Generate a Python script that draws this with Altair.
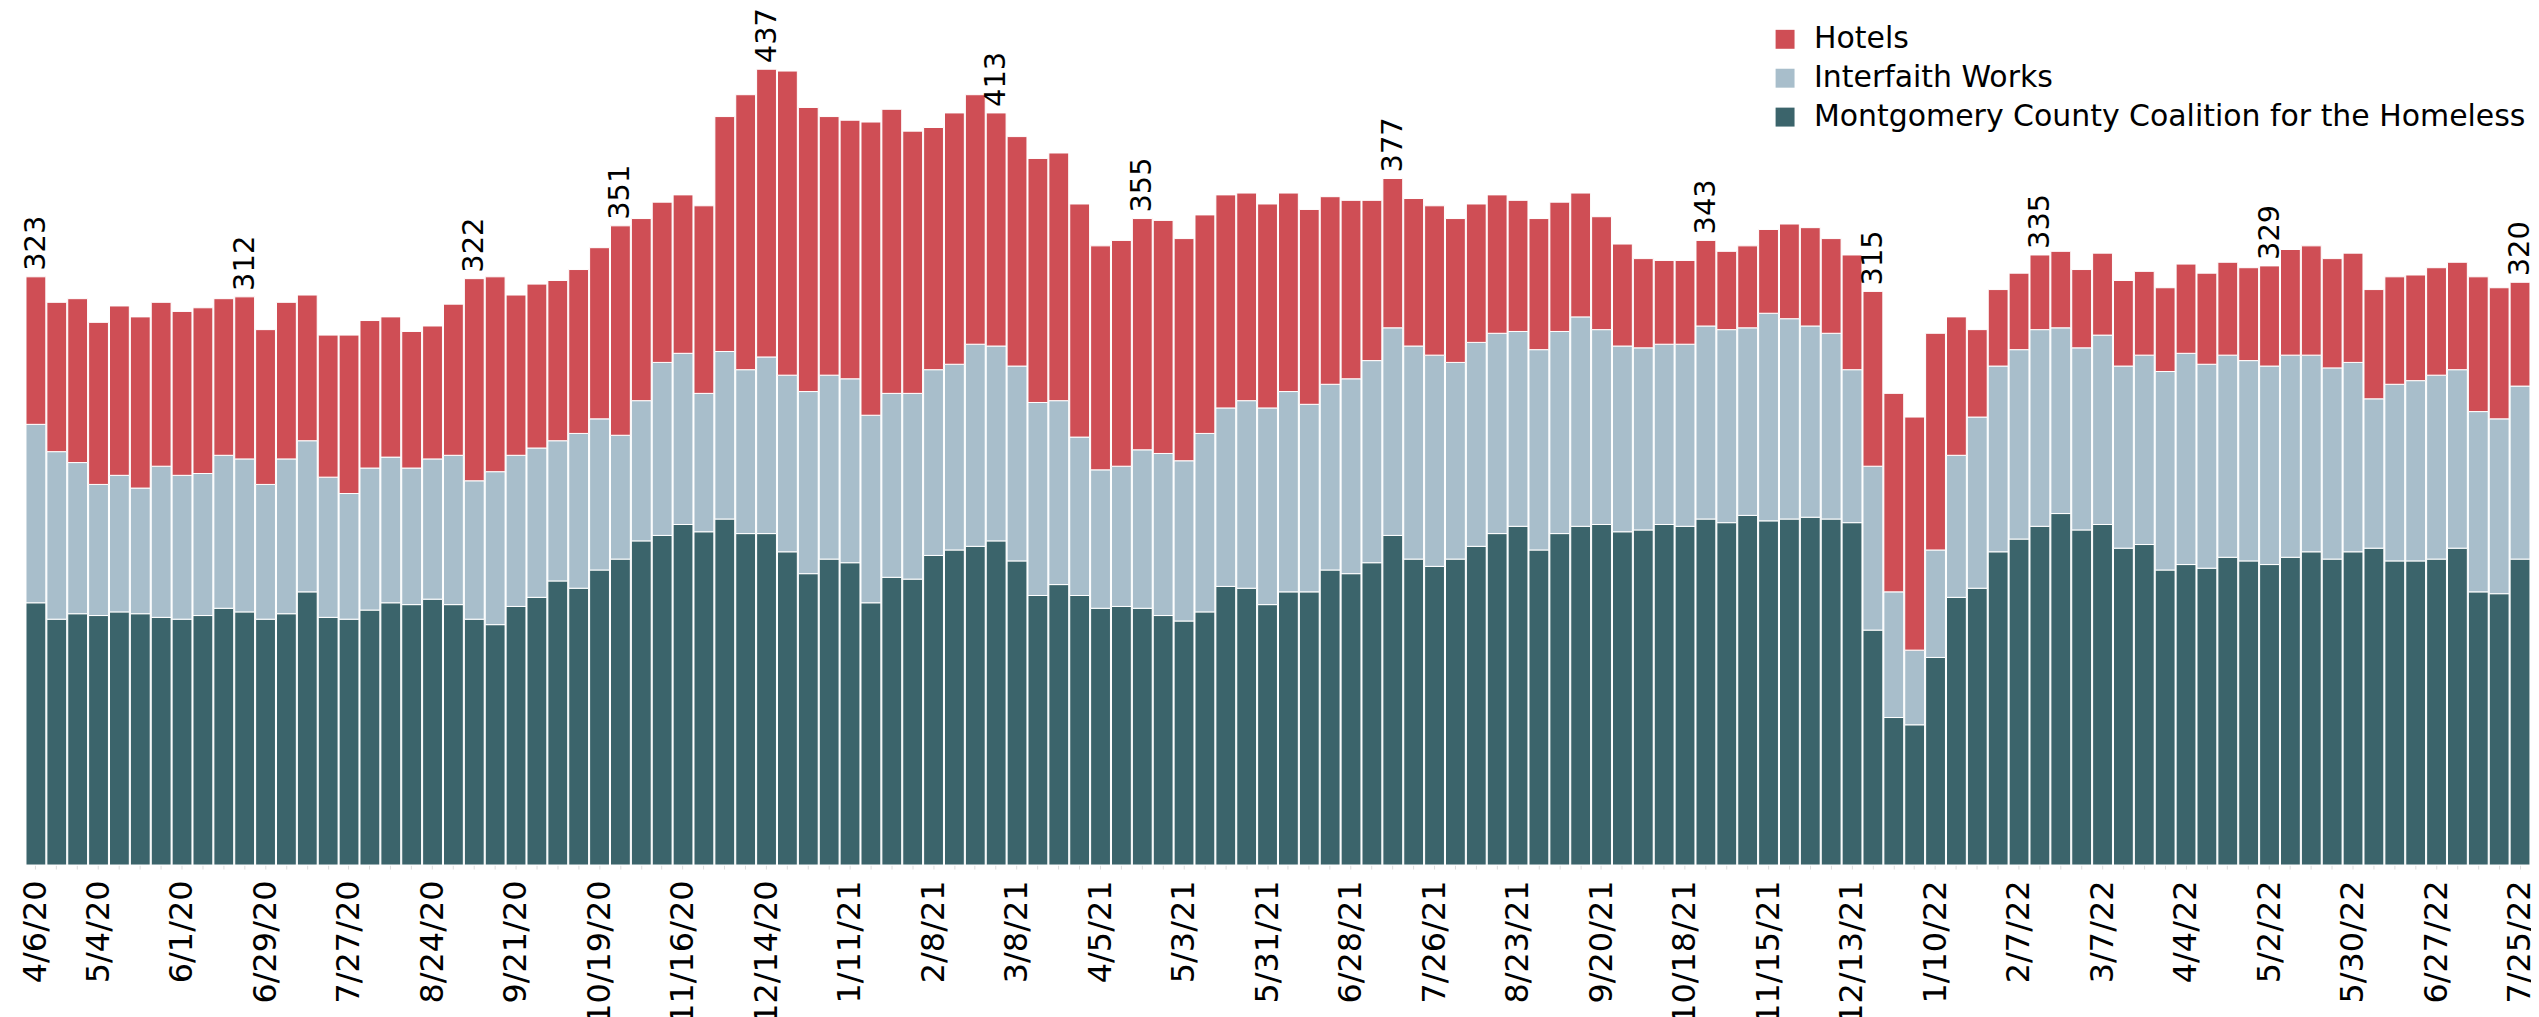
import json
import datetime as dt
import altair as alt
import pandas as pd

# ---- data (weekly counts) ----
MCCH = [144, 135, 138, 137, 139, 138, 136, 135, 137, 141, 139, 135, 138, 150, 136, 135, 140, 144, 143, 146,
        143, 135, 132, 142, 147, 156, 152, 162, 168, 178, 181, 187, 183, 190, 182, 182, 172, 160, 168, 166,
        144, 158, 157, 170, 173, 175, 178, 167, 148, 154, 148, 141, 142, 141, 137, 134, 139, 153, 152, 143,
        150, 150, 162, 160, 166, 181, 168, 164, 168, 175, 182, 186, 173, 182, 186, 187, 183, 184, 187, 186,
        190, 188, 192, 189, 190, 191, 190, 188, 129, 81, 77, 114, 147, 152, 172, 179, 186, 193, 184, 187,
        174, 176, 162, 165, 163, 169, 167, 165, 169, 172, 168, 172, 174, 167, 167, 168, 174, 150, 149, 168]
INTERFAITH = [98, 92, 83, 72, 75, 69, 83, 79, 78, 84, 84, 74, 85, 83, 77, 69, 78, 80, 75, 77,
              82, 76, 84, 83, 82, 77, 85, 83, 68, 77, 95, 94, 76, 92, 90, 97, 97, 100, 101, 101,
              103, 101, 102, 102, 102, 111, 107, 107, 106, 101, 87, 76, 77, 87, 89, 88, 98, 98, 103, 108,
              110, 103, 102, 107, 111, 114, 117, 116, 108, 112, 110, 107, 110, 111, 115, 107, 102, 100, 99, 100,
              106, 106, 103, 114, 110, 105, 102, 84, 90, 69, 41, 59, 78, 94, 102, 104, 108, 102, 100, 104,
              100, 104, 109, 116, 112, 111, 110, 109, 111, 108, 105, 104, 82, 97, 99, 101, 98, 99, 96, 95]
HOTELS = [81, 82, 90, 89, 93, 94, 90, 90, 91, 86, 89, 85, 86, 80, 78, 87, 81, 77, 75, 73,
          83, 111, 107, 88, 90, 88, 90, 94, 115, 100, 88, 87, 103, 129, 151, 158, 167, 156, 142, 142,
          161, 156, 144, 133, 138, 137, 128, 126, 134, 136, 128, 123, 124, 127, 128, 122, 120, 117, 114, 112,
          109, 107, 103, 98, 88, 82, 81, 82, 79, 76, 76, 72, 72, 71, 68, 62, 56, 49, 46, 46,
          47, 43, 45, 46, 52, 54, 52, 63, 96, 109, 128, 119, 76, 48, 42, 42, 41, 42, 43, 45,
          47, 46, 46, 49, 50, 51, 51, 55, 58, 60, 60, 60, 60, 59, 58, 59, 59, 74, 72, 57]

SERIES = ["Hotels", "Interfaith Works", "Montgomery County Coalition for the Homeless"]
COLORS = ["#CF4E55", "#A8BECB", "#3B646B"]
STACK_ORDER = {"Montgomery County Coalition for the Homeless": 0, "Interfaith Works": 1, "Hotels": 2}

AXIS_LABELS = ["4/6/20", "5/4/20", "6/1/20", "6/29/20", "7/27/20", "8/24/20", "9/21/20", "10/19/20",
               "11/16/20", "12/14/20", "1/11/21", "2/8/21", "3/8/21", "4/5/21", "5/3/21", "5/31/21",
               "6/28/21", "7/26/21", "8/23/21", "9/20/21", "10/18/21", "11/15/21", "12/13/21", "1/10/22",
               "2/7/22", "3/7/22", "4/4/22", "5/2/22", "5/30/22", "6/27/22", "7/25/22"]

# bars that carry a total label, and the labels shown
ANNOT_BARS = [0, 10, 21, 28, 35, 46, 53, 65, 80, 88, 96, 107, 119]
ANNOT_VALUES = [323, 312, 322, 351, 437, 413, 355, 377, 343, 315, 335, 329, 320]

# ---- week categories ----
first_dates = [dt.date(2020, 4, 6), dt.date(2020, 4, 20), dt.date(2020, 4, 27)]
weekly = [dt.date(2020, 5, 4) + dt.timedelta(weeks=k) for k in range(117)]
DATES = [f"{d.month}/{d.day}/{d.year % 100}" for d in first_dates + weekly]

rows = []
for i, d in enumerate(DATES):
    for name, vals in (("Montgomery County Coalition for the Homeless", MCCH),
                       ("Interfaith Works", INTERFAITH), ("Hotels", HOTELS)):
        rows.append({"date": d, "series": name, "value": vals[i], "stack_order": STACK_ORDER[name]})
df = pd.DataFrame(rows)

adf = pd.DataFrame({"date": [DATES[i] for i in ANNOT_BARS], "value": ANNOT_VALUES})

label_expr = "indexof(" + json.dumps(AXIS_LABELS) + ", datum.label) >= 0 ? datum.label : ''"

x_enc = alt.X(
    "date:N",
    sort=DATES,
    scale=alt.Scale(paddingInner=0.05, paddingOuter=0.05),
    axis=alt.Axis(
        title=None, labelAngle=270, labelExpr=label_expr, labelOverlap=False,
        domain=False, ticks=True, tickColor="#dddddd", tickSize=4, labelPadding=11,
        labelFont="DejaVu Sans", labelFontSize=32, labelColor="#000000", grid=False,
    ),
)

bars = alt.Chart(df).mark_bar(stroke="white", strokeWidth=1).encode(
    x=x_enc,
    y=alt.Y("value:Q", stack="zero", scale=alt.Scale(domain=[0, 460], nice=False), axis=None),
    color=alt.Color(
        "series:N",
        scale=alt.Scale(domain=SERIES, range=COLORS),
        legend=alt.Legend(
            title=None, orient="none", legendX=1750, legendY=-3,
            symbolType="square", symbolSize=361, symbolStrokeWidth=0, symbolOpacity=1,
            labelFont="DejaVu Sans", labelFontSize=30, labelColor="#000000",
            labelOffset=14, rowPadding=9, labelLimit=1000,
        ),
    ),
    order=alt.Order("stack_order:Q", sort="ascending"),
)

text = alt.Chart(adf).mark_text(
    angle=270, align="left", baseline="middle", dx=6,
    font="DejaVu Sans", fontSize=29, color="#000000",
).encode(
    x=alt.X("date:N", sort=DATES),
    y=alt.Y("value:Q"),
    text=alt.Text("value:Q"),
)

chart = alt.layer(bars, text).properties(
    width=2513, height=840,
    padding={"left": 17, "top": 18, "right": 0, "bottom": 151},
    autosize=alt.AutoSizeParams(type="none"),
    background="white",
).configure_view(stroke=None)

chart.save("out.html", embed_options={"renderer": "svg", "actions": False})
